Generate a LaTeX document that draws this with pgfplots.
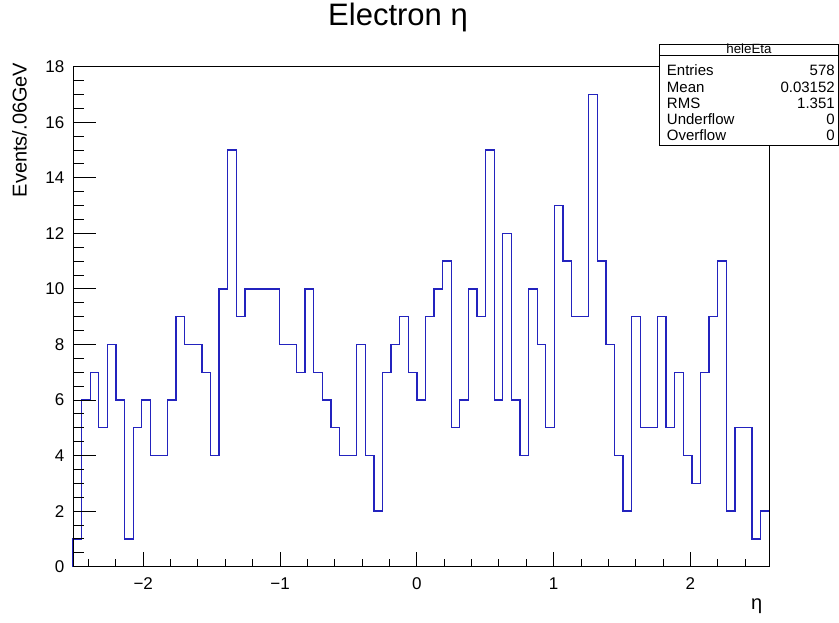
\documentclass[border=0pt]{standalone}
\usepackage{pgfplots}
\pgfplotsset{compat=1.18}
\usepackage{fontspec}
\setmainfont{Liberation Sans}
\definecolor{rootblue}{RGB}{35,35,190}
\begin{document}
\begin{tikzpicture}
\useasboundingbox (0pt,0pt) rectangle (629.25pt,466.5pt);
\begin{axis}[
  at={(54.75pt,41.5pt)}, anchor=south west,
  scale only axis, width=522.2pt, height=375pt,
  xmin=-2.5133, xmax=2.5761, ymin=0, ymax=18,
  axis on top,
  axis line style={line width=0.75pt, black},
  tick align=inside, xtick pos=bottom, ytick pos=left,
  xtick={-2,-1,0,1,2}, xticklabels={−2,−1,0,1,2},
  ytick={0,2,...,18},
  minor xtick={-2.4,-2.2,...,2.5},
  minor ytick={0,0.5,...,18},
  xtick style={line width=0.75pt, black, /pgfplots/major tick length=11.25pt, /pgfplots/minor tick length=5.8pt},
  ytick style={line width=0.75pt, black, /pgfplots/major tick length=17pt, /pgfplots/minor tick length=8.3pt},
  /pgf/number format/assume math mode=true,
  tick label style={font=\fontsize{12.75}{14}\selectfont},
  yticklabel style={xshift=-3pt},
  xticklabel style={yshift=-5pt},
  title={Electron η},
  title style={font=\fontsize{23.25}{26}\selectfont, at={(axis description cs:0.4668,1.0668)}, anchor=base},
  ylabel={Events/.06GeV},
  ylabel style={font=\fontsize{15}{17}\selectfont, at={(axis description cs:-0.0665,1.0174)}, anchor=base east},
  xlabel={η},
  xlabel style={font=\fontsize{15}{17}\selectfont, at={(axis description cs:0.9967,-0.0866)}, anchor=base east},
  clip=false,
]
\addplot[const plot, color=rootblue, line width=1pt] table {
x y
-2.5133 0
-2.5133 1
-2.4504 6
-2.3876 7
-2.3248 5
-2.2619 8
-2.1991 6
-2.1363 1
-2.0735 5
-2.0106 6
-1.9478 4
-1.8850 4
-1.8221 6
-1.7593 9
-1.6965 8
-1.6336 8
-1.5708 7
-1.5080 4
-1.4451 10
-1.3823 15
-1.3195 9
-1.2566 10
-1.1938 10
-1.1310 10
-1.0681 10
-1.0053 8
-0.9425 8
-0.8796 7
-0.8168 10
-0.7540 7
-0.6912 6
-0.6283 5
-0.5655 4
-0.5027 4
-0.4398 8
-0.3770 4
-0.3142 2
-0.2513 7
-0.1885 8
-0.1257 9
-0.0628 7
0.0000 6
0.0628 9
0.1257 10
0.1885 11
0.2513 5
0.3142 6
0.3770 10
0.4398 9
0.5027 15
0.5655 6
0.6283 12
0.6912 6
0.7540 4
0.8168 10
0.8796 8
0.9425 5
1.0053 13
1.0681 11
1.1310 9
1.1938 9
1.2566 17
1.3195 11
1.3823 8
1.4451 4
1.5080 2
1.5708 9
1.6336 5
1.6965 5
1.7593 9
1.8221 5
1.8850 7
1.9478 4
2.0106 3
2.0735 7
2.1363 9
2.1991 11
2.2619 2
2.3248 5
2.3876 5
2.4504 1
2.5133 2
2.5761 2
2.5761 0
};
\end{axis}
% statistics box
\draw[line width=0.75pt, fill=white] (494.5pt,357pt) rectangle (628.9pt,433.1pt);
\draw[line width=0.75pt] (494.5pt,424.9pt) -- (628.9pt,424.9pt);
\node[anchor=base, font=\fontsize{10}{12}\selectfont, inner sep=0pt] at (561.75pt,426.6pt) {heleEta};
\begin{scope}[every node/.style={font=\fontsize{11.25}{13}\selectfont, inner sep=0pt}]
\node[anchor=base west] at (500pt,409.5pt) {Entries};
\node[anchor=base east] at (626.25pt,409.5pt) {578};
\node[anchor=base west] at (500pt,397.3pt) {Mean};
\node[anchor=base east] at (626.25pt,397.3pt) {0.03152};
\node[anchor=base west] at (500pt,385pt) {RMS};
\node[anchor=base east] at (626.25pt,385pt) {1.351};
\node[anchor=base west] at (500pt,372.75pt) {Underflow};
\node[anchor=base east] at (626.25pt,372.75pt) {0};
\node[anchor=base west] at (500pt,360.75pt) {Overflow};
\node[anchor=base east] at (626.25pt,360.75pt) {0};
\end{scope}
\end{tikzpicture}
\end{document}
